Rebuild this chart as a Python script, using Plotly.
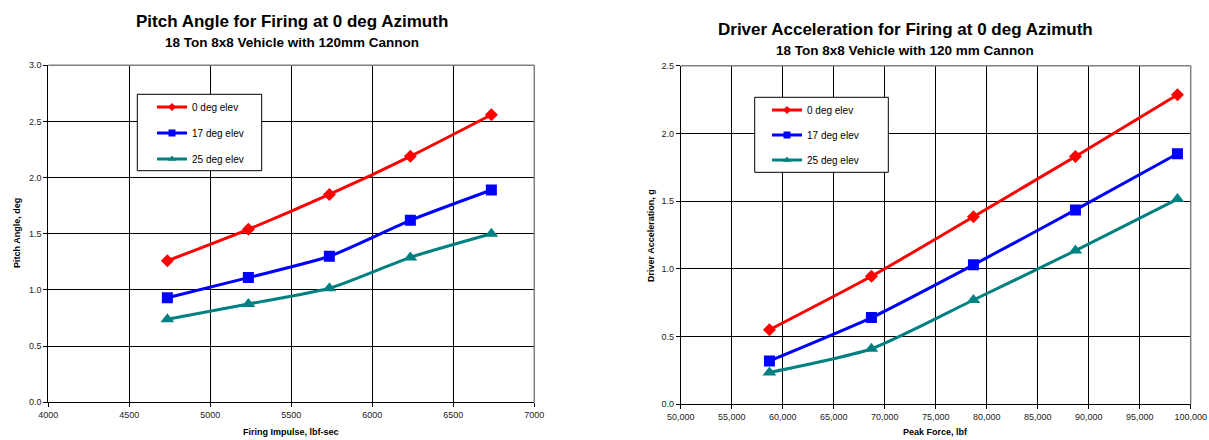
import plotly.graph_objects as go

W, H = 1209, 440

# ---- data ----
series_names = ["0 deg elev", "17 deg elev", "25 deg elev"]
impulse = [4735, 5235, 5735, 6235, 6735]
pitch_0 = [1.26, 1.54, 1.85, 2.19, 2.56]
pitch_17 = [0.93, 1.11, 1.30, 1.62, 1.89]
pitch_25 = [0.74, 0.875, 1.015, 1.29, 1.50]

peak_force = [58700, 68700, 78700, 88700, 98700]
accel_0 = [0.55, 0.945, 1.385, 1.83, 2.285]
accel_17 = [0.32, 0.64, 1.03, 1.435, 1.85]
accel_25 = [0.235, 0.41, 0.77, 1.135, 1.515]

colors = ["#FF0000", "#0000FF", "#008080"]
symbols = ["diamond", "square", "triangle-up"]
msizes = [10, 11, 12]
lmsizes = [6, 7, 7]

FONT = "Liberation Sans, Arial, sans-serif"

def px_x(p):
    return p / W

def px_y(p):
    return 1 - p / H

fig = go.Figure()

left_sets = [pitch_0, pitch_17, pitch_25]
right_sets = [accel_0, accel_17, accel_25]

for i, ys in enumerate(left_sets):
    fig.add_trace(go.Scatter(x=impulse, y=ys, mode="lines+markers",
                             line=dict(color=colors[i], width=3, shape="spline", smoothing=0.6),
                             marker=dict(symbol=symbols[i], size=msizes[i], color=colors[i]),
                             showlegend=False, xaxis="x", yaxis="y", hoverinfo="x+y"))
for i, ys in enumerate(right_sets):
    fig.add_trace(go.Scatter(x=peak_force, y=ys, mode="lines+markers",
                             line=dict(color=colors[i], width=3, shape="spline", smoothing=0.6),
                             marker=dict(symbol=symbols[i], size=msizes[i], color=colors[i]),
                             showlegend=False, xaxis="x2", yaxis="y2", hoverinfo="x+y"))

# legend-only entries
for lg, xa, ya in [("legend", "x", "y"), ("legend2", "x2", "y2")]:
    for i, name in enumerate(series_names):
        fig.add_trace(go.Scatter(x=[None], y=[None], mode="lines+markers", name=name,
                                 line=dict(color=colors[i], width=3),
                                 marker=dict(symbol=symbols[i], size=lmsizes[i], color=colors[i]),
                                 legend=lg, legendgroup=lg + str(i), xaxis=xa, yaxis=ya))

L = dict(x0=48.3, x1=534.3, y0=65.3, y1=402.3)
R = dict(x0=680.7, x1=1190.7, y0=65.7, y1=404.3)

tickfont = dict(family=FONT, size=9, color="#222222")
axis_common = dict(showgrid=True, gridcolor="#000000", gridwidth=1, zeroline=False,
                   showline=True, linecolor="#000000", linewidth=1,
                   ticks="outside", ticklen=4, tickcolor="#000000",
                   tickfont=tickfont, automargin=False, fixedrange=True)

fig.update_layout(
    width=W, height=H,
    margin=dict(l=0, r=0, t=0, b=0),
    paper_bgcolor="white", plot_bgcolor="white",
    font=dict(family=FONT, color="#000000"),
    xaxis=dict(domain=[px_x(L["x0"]), px_x(L["x1"])], range=[4000, 7000], dtick=500,
               tick0=4000, anchor="y", **axis_common),
    yaxis=dict(domain=[px_y(L["y1"]), px_y(L["y0"])], range=[0, 3.0], dtick=0.5,
               tickformat=".1f", anchor="x", **axis_common),
    xaxis2=dict(domain=[px_x(R["x0"]), px_x(R["x1"])], range=[50000, 100000], dtick=5000,
                tick0=50000, tickformat=",", anchor="y2", **axis_common),
    yaxis2=dict(domain=[px_y(R["y1"]), px_y(R["y0"])], range=[0, 2.5], dtick=0.5,
                tickformat=".1f", anchor="x2", **axis_common),
    legend=dict(x=px_x(152), y=px_y(92.5), xanchor="left", yanchor="top",
                bgcolor="rgba(0,0,0,0)", borderwidth=0, tracegroupgap=7,
                font=dict(family=FONT, size=10, color="#000000")),
    legend2=dict(x=px_x(767), y=px_y(95.5), xanchor="left", yanchor="top",
                 bgcolor="rgba(0,0,0,0)", borderwidth=0, tracegroupgap=6,
                 font=dict(family=FONT, size=10, color="#000000")),
    showlegend=True,
)

shapes = []
for P in (L, R):
    # grey top and right border
    shapes.append(dict(type="line", xref="paper", yref="paper",
                       x0=px_x(P["x0"]), x1=px_x(P["x1"]), y0=px_y(P["y0"]), y1=px_y(P["y0"]),
                       line=dict(color="#808080", width=1.5), layer="above"))
    shapes.append(dict(type="line", xref="paper", yref="paper",
                       x0=px_x(P["x1"]), x1=px_x(P["x1"]), y0=px_y(P["y0"]), y1=px_y(P["y1"]),
                       line=dict(color="#808080", width=1.5), layer="above"))
# legend boxes
for (x0, y0, x1, y1) in [(137.3, 94.3, 261.7, 170.7), (754.7, 97.3, 888.3, 172.3)]:
    shapes.append(dict(type="rect", xref="paper", yref="paper",
                       x0=px_x(x0), x1=px_x(x1), y0=px_y(y1), y1=px_y(y0),
                       line=dict(color="#000000", width=1), fillcolor="white", layer="above"))
fig.update_layout(shapes=shapes)

ann = []
def text(x, y, s, size, bold=True, angle=0):
    ann.append(dict(x=px_x(x), y=px_y(y), xref="paper", yref="paper", text=("<b>%s</b>" % s) if bold else s,
                    showarrow=False, textangle=angle, xanchor="center", yanchor="middle",
                    font=dict(family=FONT, size=size, color="#000000")))

text(292, 21, "Pitch Angle for Firing at 0 deg Azimuth", 17)
text(292, 42, "18 Ton 8x8 Vehicle with 120mm Cannon", 13.5)
text(905, 29, "Driver Acceleration for Firing at 0 deg Azimuth", 17)
text(905, 50, "18 Ton 8x8 Vehicle with 120 mm Cannon", 13.5)
text(291, 432, "Firing Impulse, lbf-sec", 9)
text(935, 432, "Peak Force, lbf", 9)
text(17, 233, "Pitch Angle, deg", 9, angle=-90)
text(651, 236, "Driver Acceleration, g", 9, angle=-90)
fig.update_layout(annotations=ann)

fig.write_html("out.html", config={"displayModeBar": False},
               post_script="document.body.style.margin='0';document.body.style.padding='0';")
